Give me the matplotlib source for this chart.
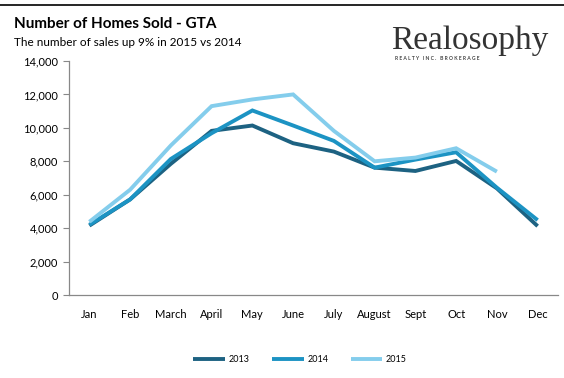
import matplotlib
matplotlib.use('Agg')
from matplotlib import pyplot as plt
from matplotlib.ticker import FuncFormatter

months = ['Jan', 'Feb', 'March', 'April', 'May', 'June', 'July', 'August', 'Sept', 'Oct', 'Nov', 'Dec']
sales_2013 = [4150, 5720, 7850, 9820, 10140, 9080, 8580, 7620, 7420, 8020, 6380, 4120]
sales_2014 = [4200, 5720, 8140, 9680, 11040, 10140, 9220, 7620, 8100, 8540, 6420, 4480]
sales_2015 = [4380, 6300, 8950, 11300, 11700, 12000, 9820, 8000, 8220, 8780, 7380]
series_labels = ['2013', '2014', '2015']
colors = ['#1d6282', '#1c93c3', '#84cdec']

plt.rcParams['font.family'] = ['Lato', 'DejaVu Sans']

fig = plt.figure(figsize=(5.64, 3.78), dpi=100)
ax = fig.add_axes([69 / 564, 1 - 295 / 378, (558 - 69) / 564, (295 - 61) / 378])

for values, label, color in zip([sales_2013, sales_2014, sales_2015], series_labels, colors):
    ax.plot(range(len(values)), values, color=color, linewidth=2.8, label=label,
            solid_joinstyle='miter', solid_capstyle='butt')

ax.set_xlim(-0.5, 11.5)
ax.set_ylim(0, 14000)
ax.set_yticks(range(0, 14001, 2000))
ax.yaxis.set_major_formatter(FuncFormatter(lambda v, p: f'{int(v):,}'))
ax.set_xticks(range(len(months)))
ax.set_xticklabels(months)
ax.tick_params(axis='x', length=0, pad=10, labelsize=8)
ax.tick_params(axis='y', length=4, width=0.8, color='#888888', labelsize=8, pad=4)
for side in ['top', 'right']:
    ax.spines[side].set_visible(False)
for side in ['left', 'bottom']:
    ax.spines[side].set_color('#888888')
    ax.spines[side].set_linewidth(0.9)

ax.legend(loc='center', bbox_to_anchor=(300 / 564, 1 - 360 / 378), bbox_transform=fig.transFigure,
          ncol=3, frameon=False, fontsize=6.5, handlelength=3.5, handletextpad=0.4, columnspacing=2.5)

# header
fig.add_artist(plt.Line2D([0, 1], [1 - 5 / 378, 1 - 5 / 378], color='black', linewidth=1.2))
fig.text(14 / 564, 1 - 24 / 378, 'Number of Homes Sold - GTA', fontsize=11, fontweight='bold', va='center')
fig.text(14 / 564, 1 - 42 / 378, 'The number of sales up 9% in 2015 vs 2014', fontsize=8.5, va='center')
fig.text(470 / 564, 1 - 41 / 378, 'Realosophy', family='Liberation Serif', fontsize=24, ha='center',
         va='center', color='#333333')
fig.text(395 / 564, 1 - 58 / 378, 'R E A L T Y   I N C .   B R O K E R A G E', fontsize=3.6, ha='left',
         va='center', color='#444444', fontweight='bold')

fig.savefig('out.png', dpi=100)
